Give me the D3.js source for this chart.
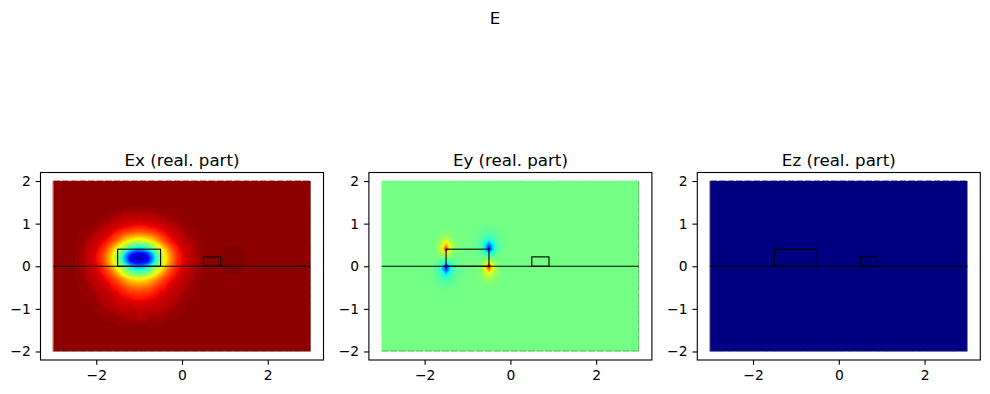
<!DOCTYPE html>
<html>
<head>
<meta charset="utf-8">
<script src="https://cdnjs.cloudflare.com/ajax/libs/d3/7.8.5/d3.min.js"></script>
<style>
html, body { margin: 0; background: #fff; }
text { font-family: "DejaVu Sans", sans-serif; fill: #000; }
</style>
</head>
<body>
<div id="graph"></div>
<script>
const width = 990;
const height = 394;

const figureTitle = "E";
const panelTitles = ["Ex (real. part)", "Ey (real. part)", "Ez (real. part)"];
const xTicks = [-2, 0, 2];
const yTicks = [-2, -1, 0, 1, 2];

// field level, 0..100 along the colormap
const backgroundLevels = [99, 49, 0];

const jetStops = [0, 11, 12.5, 34, 35, 37.5, 64, 65, 66, 89, 91, 100];
const jetColors = ["#000080", "#0000ff", "#0000ff", "#00dbff", "#00e5f7", "#14ffe2",
                   "#eeff08", "#f7f500", "#ffec00", "#ff1300", "#e80000", "#800000"];

// waveguides, [x0, x1, height]
const waveguides = [[-1.5, -0.5, 0.4], [0.5, 0.9, 0.22]];

// Ex around the first waveguide, x -2.5..0.5, y 1.4..-1.4, step 0.1
const exMode = [
  [99,99,99,99,99,99,99,99,99,99,99,99,99,99,99,99,99,99,99,99,99,99,99,99,99,99,99,99,99,99,99],
  [99,99,99,99,99,99,99,99,99,99,99,98,98,98,98,98,98,98,98,98,99,99,99,99,99,99,99,99,99,99,99],
  [99,99,99,99,99,99,99,99,98,98,98,96,96,96,96,96,96,96,96,96,98,98,98,99,99,99,99,99,99,99,99],
  [99,99,99,99,99,99,98,98,98,96,96,95,95,95,95,94,95,95,95,95,96,96,98,98,98,99,99,99,99,99,99],
  [99,99,99,99,99,98,98,96,96,95,94,94,93,93,92,92,92,93,93,94,94,95,96,96,98,98,99,99,99,99,99],
  [99,99,99,99,98,98,96,95,95,94,93,91,90,89,88,88,88,89,90,91,93,94,95,95,96,98,98,99,99,99,99],
  [99,99,98,98,98,96,95,94,93,91,89,86,84,83,82,81,82,83,84,86,89,91,93,94,95,96,98,98,98,99,99],
  [99,99,98,98,96,95,94,93,91,87,84,80,76,74,72,71,72,74,76,80,84,87,91,93,94,95,96,98,98,99,99],
  [99,98,98,96,96,95,93,91,88,84,79,73,68,64,62,60,62,64,68,73,79,84,88,91,93,95,96,96,98,98,99],
  [99,98,98,96,95,94,91,88,83,77,70,63,56,50,47,46,47,50,56,63,70,77,83,88,91,94,95,96,98,98,99],
  [99,98,97,95,94,93,89,85,78,70,62,55,46,38,32,30,32,38,46,55,62,70,78,85,89,93,94,95,97,98,99],
  [99,98,97,95,94,91,88,82,75,66,56,44,30,18,12,10,12,18,30,44,56,66,75,82,88,91,94,95,97,98,99],
  [99,98,97,95,94,91,87,81,73,64,53,40,25,10, 6, 5, 6,10,25,40,53,64,73,81,87,91,94,95,97,98,99],
  [99,98,97,95,94,91,88,82,74,65,55,42,28,16,11, 9,11,16,28,42,55,65,74,82,88,91,94,95,97,98,99],
  [99,98,97,95,94,92,89,84,77,69,61,54,44,34,29,27,29,34,44,54,61,69,77,84,89,92,94,95,97,98,99],
  [99,98,98,96,95,93,90,87,82,75,67,60,52,46,43,42,43,46,52,60,67,75,82,87,90,93,95,96,98,98,99],
  [99,98,98,96,95,94,92,89,85,80,74,67,60,55,52,50,52,55,60,67,74,80,85,89,92,94,95,96,98,98,99],
  [99,98,98,96,96,95,93,91,89,85,81,76,72,68,66,65,66,68,72,76,81,85,89,91,93,95,96,96,98,98,99],
  [99,99,98,98,96,95,94,93,91,88,85,82,78,75,74,73,74,75,78,82,85,88,91,93,94,95,96,98,98,99,99],
  [99,99,98,98,96,96,95,94,93,90,89,86,83,81,80,79,80,81,83,86,89,90,93,94,95,96,96,98,98,99,99],
  [99,99,98,98,98,96,95,95,94,92,91,89,87,85,85,84,85,85,87,89,91,92,94,95,95,96,98,98,98,99,99],
  [99,99,99,99,98,98,96,95,95,94,93,91,90,89,88,88,88,89,90,91,93,94,95,95,96,98,98,99,99,99,99],
  [99,99,99,99,98,98,96,96,95,95,94,93,92,92,91,91,91,92,92,93,94,95,95,96,96,98,98,99,99,99,99],
  [99,99,99,99,99,98,98,96,96,95,95,94,94,94,93,93,93,94,94,94,95,95,96,96,98,98,99,99,99,99,99],
  [99,99,99,99,99,98,98,98,96,96,96,95,95,95,95,95,95,95,95,95,96,96,96,98,98,98,99,99,99,99,99],
  [99,99,99,99,99,99,98,98,98,98,96,96,96,96,96,95,96,96,96,96,96,98,98,98,98,99,99,99,99,99,99],
  [99,99,99,99,99,99,99,98,98,98,98,98,98,96,96,96,96,96,98,98,98,98,98,98,99,99,99,99,99,99,99],
  [99,99,99,99,99,99,99,99,99,99,98,98,98,98,98,98,98,98,98,98,98,99,99,99,99,99,99,99,99,99,99],
  [99,99,99,99,99,99,99,99,99,99,99,99,99,99,99,99,99,99,99,99,99,99,99,99,99,99,99,99,99,99,99]
];

// faint dark spot beside the second waveguide, x 0.7..1.6, y 0.6..-0.3, step 0.1
const exSpot = [
  [99,99,99,99,99,99,99,99,99,99],
  [99,99,99,99,100,100,100,99,99,99],
  [99,99,100,100,100,100,100,100,99,99],
  [99,99,100,100,100,100,100,100,100,99],
  [99,100,100,100,100,100,100,100,100,99],
  [99,100,100,100,100,100,100,100,100,99],
  [99,99,100,100,100,100,100,100,99,99],
  [99,99,99,100,100,100,100,100,99,99],
  [99,99,99,99,100,100,100,99,99,99],
  [99,99,99,99,99,99,99,99,99,99]
];

// Ey around the first waveguide corners, x -2..0, y 1.0..-0.6, step 0.1
const eyCorners = [
  [49,49,49,49,49,49,49,49,49,49,49,49,49,49,49,49,49,49,49,49,49],
  [49,49,49,49,50,50,50,49,49,49,49,49,49,49,48,48,48,49,49,49,49],
  [49,49,49,50,51,51,51,50,49,49,49,49,49,48,47,47,47,48,49,49,49],
  [49,49,49,50,52,55,52,50,49,49,49,49,49,47,45,43,45,47,49,49,49],
  [49,49,50,52,56,62,56,52,50,49,49,49,48,46,42,36,42,46,48,49,49],
  [49,49,50,53,60,73,60,53,50,49,49,49,48,45,36,22,36,45,48,49,49],
  [49,49,50,53,62,90,61,52,50,49,49,49,48,45,35, 7,35,45,48,49,49],
  [49,49,50,52,56,64,55,51,49,49,49,49,49,47,43,35,43,47,49,49,49],
  [49,49,49,50,50,51,50,49,49,49,49,49,49,49,49,48,49,49,49,49,49],
  [49,49,49,48,44,38,44,48,49,49,49,49,49,51,55,62,55,51,49,49,49],
  [49,49,48,45,36, 6,36,45,48,49,49,49,50,53,62,92,62,53,50,49,49],
  [49,49,48,45,37,20,37,45,48,49,49,49,50,53,60,74,60,53,50,49,49],
  [49,49,48,46,42,36,42,46,48,49,49,49,50,52,56,62,56,52,50,49,49],
  [49,49,49,47,45,43,45,47,49,49,49,49,50,51,53,55,53,51,50,49,49],
  [49,49,49,48,47,46,47,48,49,49,49,49,49,50,51,52,51,50,49,49,49],
  [49,49,49,49,48,48,48,49,49,49,49,49,49,49,50,50,50,49,49,49,49],
  [49,49,49,49,49,49,49,49,49,49,49,49,49,49,49,49,49,49,49,49,49]
];

// [matrix, x of first column, y of first row]
const panelPatches = [
  [[exMode, -2.5, 1.4], [exSpot, 0.7, 0.6]],
  [[eyCorners, -2, 1.0]],
  []
];

const patchStep = 0.1;
const panelLeft = [40.5, 368.9, 697.3];
const panelWidth = 283;
const panelTop = 172.5;
const panelHeight = 187.5;
const tickLen = 4.86;

const jet = d3.scaleLinear().domain(jetStops).range(jetColors).clamp(true);
const levels = d3.range(0, 101);

const svg = d3.select("#graph")
              .append("svg")
              .attr("width", width)
              .attr("height", height)
              .style("display", "block");

const defs = svg.append("defs");

svg.append("text")
   .attr("x", 495)
   .attr("y", 23.5)
   .attr("text-anchor", "middle")
   .attr("font-size", 16.67)
   .text(figureTitle);

panelTitles.forEach(function(title, p) {
    const x = d3.scaleLinear().domain([-3.3, 3.3]).range([panelLeft[p], panelLeft[p] + panelWidth]);
    const y = d3.scaleLinear().domain([-2.2, 2.2]).range([panelTop + panelHeight, panelTop]);
    const g = svg.append("g");
    const fieldColor = jet(backgroundLevels[p]);

    g.append("rect")
     .attr("x", x(-3))
     .attr("y", y(2))
     .attr("width", x(3) - x(-3))
     .attr("height", y(-2) - y(2))
     .attr("fill", fieldColor);

    // field patches as filled iso-bands
    panelPatches[p].forEach(function([matrix, x0, y0], k) {
        const rows = matrix.length;
        const cols = matrix[0].length;
        const path = d3.geoPath(d3.geoTransform({
            point(cx, cy) {
                this.stream.point(x(x0 + (cx - 0.5) * patchStep), y(y0 - (cy - 0.5) * patchStep));
            }
        }));
        const bands = d3.contours().size([cols, rows]).thresholds(levels)(matrix.flat());

        // whole pixels here, a soft clip edge lets the stacked bands bleed through
        const clipId = `patch-${p}-${k}`;
        const left = Math.round(x(x0));
        const top = Math.round(y(y0));
        defs.append("clipPath")
            .attr("id", clipId)
            .append("rect")
            .attr("x", left)
            .attr("y", top)
            .attr("width", Math.round(x(x0 + (cols - 1) * patchStep)) - left)
            .attr("height", Math.round(y(y0 - (rows - 1) * patchStep)) - top);

        g.append("g")
         .attr("clip-path", `url(#${clipId})`)
         .selectAll("path")
         .data(bands.filter(d => d.coordinates.length))
         .join("path")
         .attr("d", path)
         .attr("fill", d => jet(d.value));
    });

    // rough mesh edge of the plotted image
    const edge = g.append("g").attr("fill", "none").attr("stroke-width", 1);
    edge.append("line")
        .attr("x1", x(-3) - 0.5).attr("x2", x(-3) - 0.5).attr("y1", y(2)).attr("y2", y(-2))
        .attr("stroke", fieldColor).attr("stroke-opacity", 0.45);
    edge.append("line")
        .attr("x1", x(-3)).attr("x2", x(3)).attr("y1", y(2) - 0.5).attr("y2", y(2) - 0.5)
        .attr("stroke", fieldColor).attr("stroke-opacity", 0.4).attr("stroke-dasharray", "7 1.6");
    edge.append("line")
        .attr("x1", x(-3)).attr("x2", x(3)).attr("y1", y(-2) - 0.5).attr("y2", y(-2) - 0.5)
        .attr("stroke", "#333").attr("stroke-opacity", 0.4).attr("stroke-dasharray", "7 1.6");
    edge.append("line")
        .attr("x1", x(3) - 0.5).attr("x2", x(3) - 0.5).attr("y1", y(2)).attr("y2", y(-2))
        .attr("stroke", "#333").attr("stroke-opacity", 0.3).attr("stroke-dasharray", "7 1.6");

    // structure outline
    const outline = g.append("g").attr("fill", "none").attr("stroke", "#000").attr("stroke-width", 1.1);
    outline.append("line")
           .attr("x1", x(-3)).attr("x2", x(3)).attr("y1", y(0)).attr("y2", y(0));
    outline.selectAll("rect")
           .data(waveguides)
           .join("rect")
           .attr("x", d => x(d[0]))
           .attr("y", d => y(d[2]))
           .attr("width", d => x(d[1]) - x(d[0]))
           .attr("height", d => y(0) - y(d[2]));

    g.append("rect")
     .attr("x", panelLeft[p])
     .attr("y", panelTop)
     .attr("width", panelWidth)
     .attr("height", panelHeight)
     .attr("fill", "none")
     .attr("stroke", "#000")
     .attr("stroke-width", 1.1);

    const xAxis = g.append("g")
                   .attr("transform", `translate(0,${panelTop + panelHeight})`)
                   .call(d3.axisBottom(x).tickValues(xTicks).tickFormat(d3.format("d")).tickSize(tickLen).tickPadding(4.9));
    const yAxis = g.append("g")
                   .attr("transform", `translate(${panelLeft[p]},0)`)
                   .call(d3.axisLeft(y).tickValues(yTicks).tickFormat(d3.format("d")).tickSize(tickLen).tickPadding(4.9));
    [xAxis, yAxis].forEach(function(a) {
        a.attr("font-size", 13.89).attr("font-family", null);
        a.select(".domain").remove();
        a.selectAll("line").attr("stroke", "#000").attr("stroke-width", 1.1);
    });

    g.append("text")
     .attr("x", panelLeft[p] + panelWidth / 2)
     .attr("y", 166)
     .attr("text-anchor", "middle")
     .attr("font-size", 16.67)
     .text(title);
});
</script>
</body>
</html>
